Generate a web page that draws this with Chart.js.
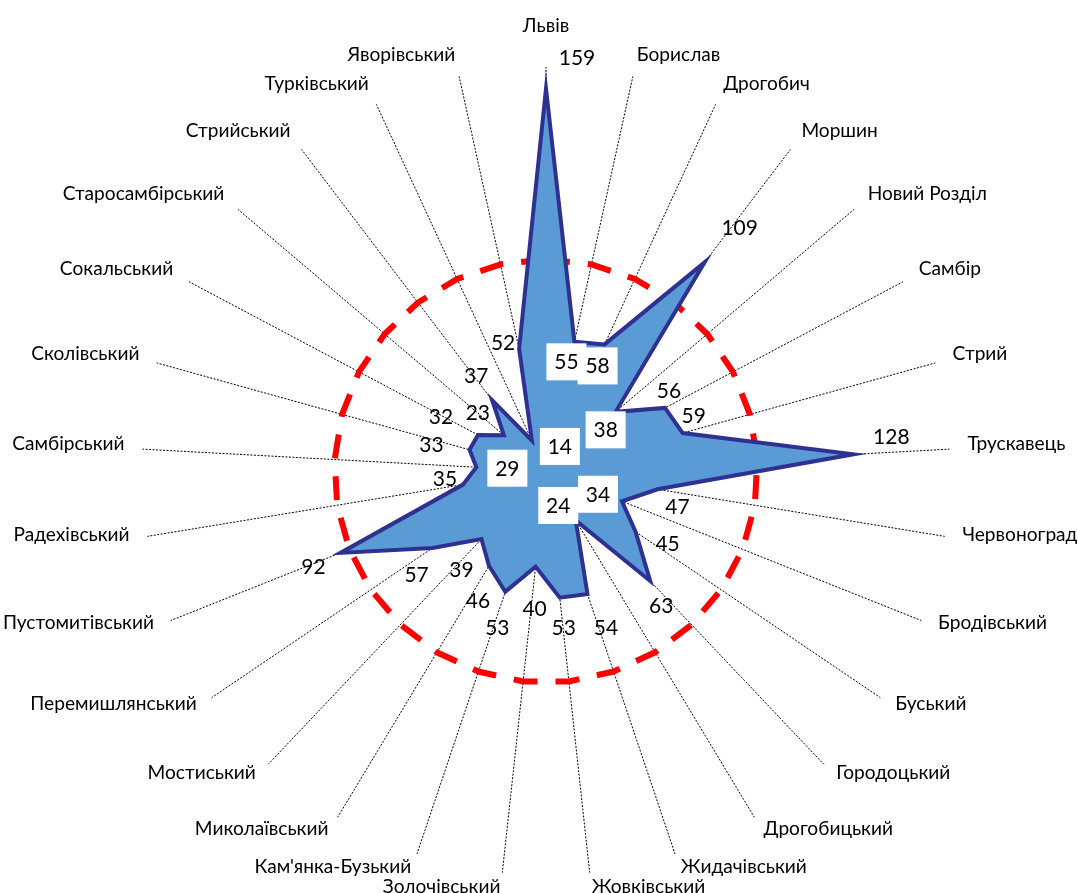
<!DOCTYPE html>
<html>
<head>
<meta charset="utf-8">
<script src="https://cdn.jsdelivr.net/npm/chart.js@4"></script>
<style>
html,body{margin:0;padding:0;background:#fff;}
#wrap{width:1078px;height:893px;position:relative;}
</style>
</head>
<body>
<div id="wrap"><canvas id="c"></canvas></div>
<script>
// ---- data ----
const categories = ['Львів','Борислав','Дрогобич','Моршин','Новий Розділ','Самбір','Стрий','Трускавець','Червоноград',
  'Бродівський','Буський','Городоцький','Дрогобицький','Жидачівський','Жовківський','Золочівський',"Кам'янка-Бузький",
  'Миколаївський','Мостиський','Перемишлянський','Пустомитівський','Радехівський','Самбірський','Сколівський',
  'Сокальський','Старосамбірський','Стрийський','Турківський','Яворівський'];
const values = [159,55,58,109,38,56,59,128,47,34,45,63,24,54,53,40,53,46,39,57,92,35,29,33,32,23,37,14,52];
const threshold = [88,88,88,88,88,88,88,88,88,88,88,88,88,88,88,88,88,88,88,88,88,88,88,88,88,88,88,88,88];
const axisMax = 168;

// ---- label layout (pixel nudges of value labels from their points) ----
const labelNudges = [[31,-31],[-8,20],[-7,21.5],[35,-35],[-10,18],[4,-17],[11,-17.5],[38,-18],[20,17],[-24,-7],
  [32,12],[11,25],[-17.5,-15],[18.5,33],[4,30],[-1,42],[-8,36],[-11,35],[-20,30],[-16,27],[-27,14],[-18,-6],
  [31,1],[-38,-5],[-37,-18],[-26,-23],[-16,-25],[28,6],[-16,-6]];
const boxedLabels = [1,2,4,9,12,22,27];

const FONT = "Lato, 'Open Sans', 'Noto Sans', sans-serif";
const CAT_GAP = 18, CAT_LIFT = 5, TOP_EXTRA = 19;

const labelPlugin = {
  id: 'textLabels',
  afterDraw(chart) {
    const ctx = chart.ctx;
    const scale = chart.scales.r;
    ctx.save();
    ctx.font = '20px ' + FONT;
    const catSize = 20 * 98 / ctx.measureText('Трускавець').width;
    ctx.font = '22px ' + FONT;
    const valSize = 22 * 36.5 / ctx.measureText('159').width;

    // category labels
    ctx.font = catSize.toFixed(2) + 'px ' + FONT;
    ctx.fillStyle = '#000';
    ctx.textBaseline = 'alphabetic';
    const capH = ctx.measureText('Т').actualBoundingBoxAscent;
    categories.forEach((name, i) => {
      const p = scale.getPointPosition(i, scale.drawingArea + CAT_GAP);
      const s = Math.sin(scale.getIndexAngle(i));
      const align = s > 0.05 ? 'left' : (s < -0.05 ? 'right' : 'center');
      const y = p.y - CAT_LIFT - (align === 'center' ? TOP_EXTRA : 0);
      ctx.textAlign = align;
      ctx.fillText(name, p.x, y + capH / 2);
    });

    // value labels
    const meta = chart.getDatasetMeta(0);
    ctx.font = valSize.toFixed(2) + 'px ' + FONT;
    const digH = ctx.measureText('0').actualBoundingBoxAscent;
    ctx.textAlign = 'center';
    values.forEach((v, i) => {
      const pt = meta.data[i];
      const x = pt.x + labelNudges[i][0];
      const y = pt.y + labelNudges[i][1];
      if (boxedLabels.includes(i)) {
        ctx.fillStyle = '#fff';
        ctx.fillRect(x - 20, y - 18.5, 40, 37);
      }
      ctx.fillStyle = '#000';
      ctx.fillText(String(v), x, y + digH / 2);
    });
    ctx.restore();
  }
};

new Chart(document.getElementById('c'), {
  type: 'radar',
  data: {
    labels: categories,
    datasets: [
      {
        data: values,
        fill: true,
        backgroundColor: '#5B9BD5',
        borderColor: '#2F3192',
        borderWidth: 4,
        borderJoinStyle: 'miter',
        pointRadius: 0,
        tension: 0
      },
      {
        data: threshold,
        fill: false,
        borderColor: '#FF0000',
        borderWidth: 6,
        borderDash: [24, 18],
        pointRadius: 0,
        tension: 0
      }
    ]
  },
  options: {
    responsive: true,
    maintainAspectRatio: false,
    animation: false,
    events: [],
    layout: { padding: { left: 96, right: 82, top: 67, bottom: 18 } },
    plugins: { legend: { display: false }, tooltip: { enabled: false } },
    scales: {
      r: {
        z: 1,
        min: 0,
        max: axisMax,
        ticks: { display: false },
        grid: { display: false },
        pointLabels: { display: false },
        angleLines: { display: true, color: '#000', lineWidth: 1, borderDash: [2, 1.5] }
      }
    }
  },
  plugins: [labelPlugin]
});
</script>
</body>
</html>
